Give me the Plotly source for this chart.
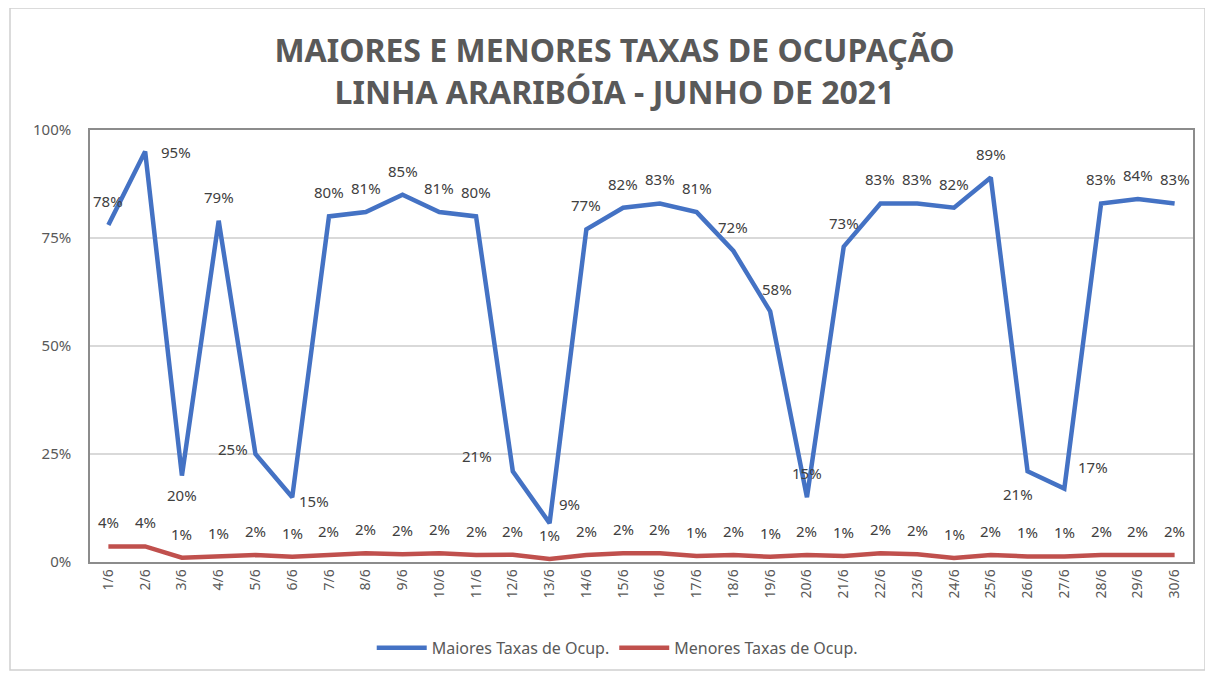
import plotly.graph_objects as go

days = [f"{d}/6" for d in range(1, 31)]
maiores = [78, 95, 20, 79, 25, 15, 80, 81, 85, 81, 80, 21, 9, 77, 82, 83, 81, 72, 58, 15,
           73, 83, 83, 82, 89, 21, 17, 83, 84, 83]
menores = [3.6, 3.6, 1.0, 1.2, 1.6, 1.2, 1.6, 2.0, 1.8, 2.0, 1.6, 1.7, 0.7, 1.6, 2.0, 2.0,
           1.4, 1.6, 1.2, 1.6, 1.4, 2.0, 1.8, 0.9, 1.6, 1.3, 1.3, 1.6, 1.6, 1.6]
maiores_labels = ["78%", "95%", "20%", "79%", "25%", "15%", "80%", "81%", "85%", "81%", "80%",
                  "21%", "9%", "77%", "82%", "83%", "81%", "72%", "58%", "15%", "73%", "83%",
                  "83%", "82%", "89%", "21%", "17%", "83%", "84%", "83%"]
menores_labels = ["4%", "4%", "1%", "1%", "2%", "1%", "2%", "2%", "2%", "2%", "2%", "2%", "1%",
                  "2%", "2%", "2%", "1%", "2%", "1%", "2%", "1%", "2%", "2%", "1%", "2%", "1%",
                  "1%", "2%", "2%", "2%"]
y_ticks = [0, 25, 50, 75, 100]

# label offsets (pixels) for the Maiores series
offsets_max = {i: (0, 24) for i in range(30)}
offsets_max.update({1: (31, 0), 2: (0, -19), 4: (-22, 5), 5: (22, -4), 11: (-36, 15),
                    12: (20, 19), 18: (7, 22), 25: (-10, -23), 26: (29, 22)})

BLUE = "#4472C4"
RED = "#C0504D"
TXT = "#404040"
FONT = "Noto Sans"

fig = go.Figure()
fig.add_trace(go.Scatter(x=days, y=maiores, mode="lines", name="Maiores Taxas de Ocup.",
                         line=dict(color=BLUE, width=4.5)))
fig.add_trace(go.Scatter(x=days, y=menores, mode="lines", name="Menores Taxas de Ocup.",
                         line=dict(color=RED, width=4.5)))

annotations = []
for i, (d, v, t) in enumerate(zip(days, maiores, maiores_labels)):
    dx, dy = offsets_max[i]
    annotations.append(dict(x=d, y=v, text=t, showarrow=False, xshift=dx, yshift=dy,
                            font=dict(size=15, color=TXT, family=FONT)))
for d, v, t in zip(days, menores, menores_labels):
    annotations.append(dict(x=d, y=v, text=t, showarrow=False, yshift=24,
                            font=dict(size=15, color=TXT, family=FONT)))

fig.update_layout(
    width=1213, height=675,
    margin=dict(l=82, r=28, t=122, b=121),
    paper_bgcolor="white", plot_bgcolor="white",
    title=dict(text="MAIORES E MENORES TAXAS DE OCUPAÇÃO<br>LINHA ARARIBÓIA - JUNHO DE 2021",
               x=0.5, xanchor="center", y=0.92, yanchor="middle", yref="container",
               font=dict(family="Liberation Sans Narrow, " + FONT, size=32, color="#595959",
                         weight="bold")),
    showlegend=True,
    legend=dict(orientation="h", x=0.478, xanchor="center", y=-0.199, yanchor="middle",
                font=dict(size=16, color="#595959", family=FONT), itemwidth=50,
                traceorder="normal"),
    annotations=annotations,
    xaxis=dict(type="category", range=[-0.5, 29.5], tickangle=-90, showgrid=False,
               showline=True, linecolor="#8c8c8c", linewidth=1.5, mirror=True,
               tickfont=dict(size=14, color="#595959", family=FONT), ticks=""),
    yaxis=dict(range=[0, 100], tickvals=y_ticks, ticktext=[f"{v}%" for v in y_ticks],
               showgrid=True, gridcolor="#d9d9d9", gridwidth=1.5, zeroline=False,
               showline=True, linecolor="#8c8c8c", linewidth=1.5, mirror=True,
               ticklabelstandoff=14,
               tickfont=dict(size=15, color="#595959", family=FONT)),
    shapes=[dict(type="rect", xref="paper", yref="paper",
                 x0=(10 - 90) / 1103, x1=(1205 - 90) / 1103,
                 y0=(562 - 670) / 432, y1=(562 - 8) / 432,
                 line=dict(color="#d0d0d0", width=1.5), layer="below")],
)

fig.write_html("out.html")
